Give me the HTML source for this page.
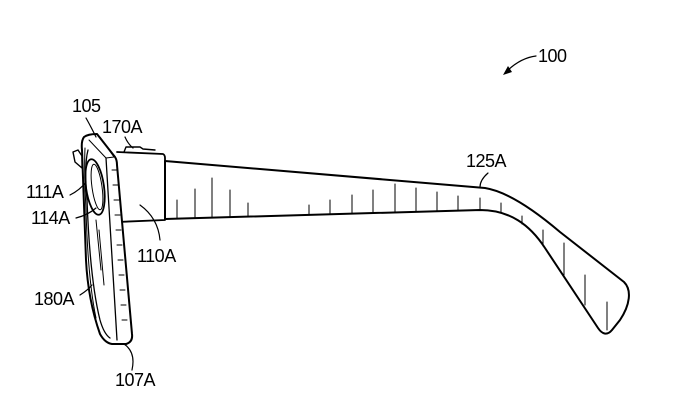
<!DOCTYPE html>
<html><head><style>
html,body{margin:0;padding:0;background:#fff;}
svg{display:block;}
text{font-family:"Liberation Sans",Arial,sans-serif;font-size:18px;fill:#000;letter-spacing:-0.5px;}
</style></head><body>
<svg width="678" height="412" viewBox="0 0 678 412" xmlns="http://www.w3.org/2000/svg" fill="none" stroke="#000" stroke-width="1.6" stroke-linejoin="round" stroke-linecap="round">
<!-- temple -->
<path d="M165,161 L485,188 C510,192 540,215 560,232 L624,282 C632,290 630,305 620,320 L612,330 C607,336 602,334 598,328 L545,248 C530,225 510,210 480,210 L165,219 Z" stroke-width="2"/>
<g stroke-width="1">
<line x1="177" y1="200" x2="177" y2="219"/><line x1="195" y1="189" x2="195" y2="218"/><line x1="212" y1="178" x2="212" y2="218"/><line x1="230" y1="190" x2="230" y2="217"/><line x1="248" y1="203" x2="248" y2="217"/>
<line x1="309" y1="205" x2="309" y2="214"/><line x1="330" y1="200" x2="330" y2="214"/><line x1="352" y1="195" x2="352" y2="213"/><line x1="373" y1="190" x2="373" y2="212"/><line x1="395" y1="184" x2="395" y2="212"/><line x1="416" y1="188" x2="416" y2="211"/><line x1="437" y1="192" x2="437" y2="211"/><line x1="458" y1="196" x2="458" y2="210"/><line x1="480" y1="198" x2="480" y2="210"/>
<line x1="501" y1="203" x2="501" y2="213"/><line x1="522" y1="216" x2="522" y2="224"/><line x1="543" y1="230" x2="543" y2="246"/><line x1="564" y1="243" x2="564" y2="275"/><line x1="585" y1="275" x2="585" y2="305"/><line x1="607" y1="302" x2="607" y2="330"/>
</g>
<!-- hinge block -->
<path d="M117,152 L163,154 Q165,155 165,158 L165,220 L117,222" stroke-width="1.8"/>
<path d="M124,152 L126,147 L140,147 L143,149 L155,150" stroke-width="1.4"/>
<!-- frame front -->
<path d="M84,137 Q88,134 97,134 L115,157 Q117,160 117,165 L132,334 Q133,342 126,344 L112,344 Q105,343 100,334 Q88,300 86,260 L82,150 Q81,141 84,137 Z" fill="#fff" stroke-width="2"/>
<path d="M100,137 L114,157 L106,158 L89,140" stroke-width="1"/>
<path d="M106,158 L117,340" stroke-width="1.3"/>
<path d="M88,150 Q84,165 87,200 Q90,280 100,320 Q104,334 110,338" stroke-width="1.3"/>
<path d="M85,148 Q84,170 86,210 Q88,280 96,318" stroke-width="1"/>
<ellipse cx="95" cy="187" rx="9" ry="28" transform="rotate(-8 95 187)" stroke-width="1.8"/>
<ellipse cx="97" cy="187" rx="5" ry="23" transform="rotate(-8 97 187)" stroke-width="1"/>
<path d="M73,152 L78,150 L82,156 L82,168 L75,162 Z" stroke-width="1.4"/>
<g stroke-width="1">
<line x1="112" y1="170" x2="117" y2="170"/><line x1="113" y1="185" x2="118" y2="185"/><line x1="114" y1="200" x2="119" y2="200"/><line x1="115" y1="215" x2="120" y2="215"/><line x1="116" y1="230" x2="121" y2="230"/><line x1="117" y1="245" x2="122" y2="245"/><line x1="118" y1="260" x2="123" y2="260"/><line x1="119" y1="275" x2="124" y2="275"/><line x1="120" y1="290" x2="125" y2="290"/><line x1="121" y1="305" x2="126" y2="305"/><line x1="122" y1="320" x2="127" y2="320"/>
<line x1="96" y1="220" x2="101" y2="270"/><line x1="99" y1="230" x2="104" y2="285"/>
</g>
<!-- leaders -->
<g stroke-width="1.2">
<path d="M86,118 Q90,125 96,137"/>
<path d="M125,137 Q128,144 133,148"/>
<path d="M70,195 Q80,190 86,182"/>
<path d="M76,218 Q88,215 96,208"/>
<path d="M140,205 Q158,218 160,240"/>
<path d="M80,295 Q88,290 92,285"/>
<path d="M124,344 Q136,352 132,370"/>
<path d="M488,173 Q480,180 480,187"/>
<path d="M536,56 Q520,58 506,72"/>
</g>
<path d="M503,75 L508,66 L512,72 Z" fill="#000" stroke="none"/>
<g stroke="none">
<text x="538" y="62">100</text>
<text x="72" y="112">105</text>
<text x="102" y="133">170A</text>
<text x="26" y="198">111A</text>
<text x="31" y="224">114A</text>
<text x="137" y="262">110A</text>
<text x="34" y="305">180A</text>
<text x="115" y="386">107A</text>
<text x="466" y="167">125A</text>
</g>
</svg>
</body></html>
